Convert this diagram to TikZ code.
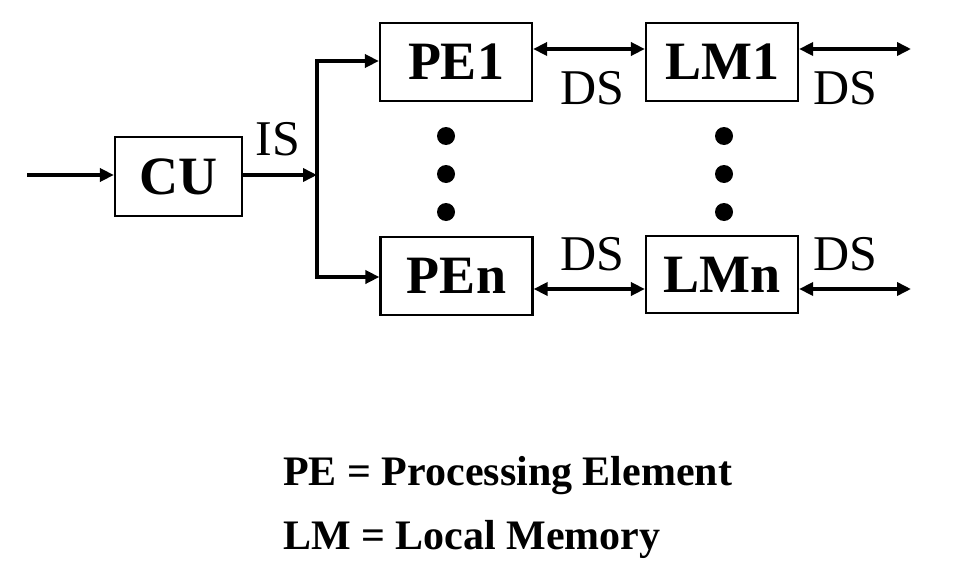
\documentclass[tikz,border=0pt]{standalone}
\usepackage{fontspec}
\setmainfont{Liberation Serif}
\usetikzlibrary{arrows.meta}
\begin{document}
\begin{tikzpicture}[x=1pt,y=-1pt,
  box/.style={draw,line width=2.2pt,minimum width=152pt,minimum height=78pt,inner sep=0pt,font=\fontsize{54}{54}\selectfont\bfseries},
  arr/.style={line width=3.5pt,-{Triangle[length=14pt,width=13pt]}},
  dbl/.style={line width=3.5pt,{Triangle[length=14pt,width=13pt]}-{Triangle[length=14pt,width=13pt]}},
  lbl/.style={font=\fontsize{50}{50}\selectfont,inner sep=0pt},
  leg/.style={font=\fontsize{42}{42}\selectfont\bfseries,inner sep=0pt,anchor=base west},
  dot/.style={circle,fill=black,minimum size=18pt,inner sep=0pt}]
\useasboundingbox (0,0) rectangle (965,567);
\node[box,minimum width=127pt,minimum height=79pt] (CU) at (178.5,176.5) {CU};
\node[box] (PE1) at (456,62) {PE1};
\node[box] (PEn) at (456.5,276) {PEn};
\node[box] (LM1) at (722,62) {LM1};
\node[box,minimum height=77pt] (LMn) at (722,274.5) {LMn};
\coordinate (in) at (27,175);
\coordinate (split) at (317,175);
\coordinate (out1) at (911,49);
\coordinate (outn) at (911,289);
\draw[arr] (in) -- (in -| CU.west);
\draw[arr] (in -| CU.east) -- (split);
\draw[arr] (split) |- ([yshift=1pt]PE1.west);
\draw[arr] (split) |- ([yshift=-1pt]PEn.west);
\draw[dbl] ([yshift=13pt]PE1.east) -- ([yshift=13pt]PE1.east -| LM1.west);
\draw[dbl] ([yshift=-13pt]PEn.east) -- ([yshift=-13pt]PEn.east -| LMn.west);
\draw[dbl] (out1 -| LM1.east) -- (out1);
\draw[dbl] (outn -| LMn.east) -- (outn);
\node[lbl] (IS) at (278,139) {IS};
\node[lbl] (DS1) at (592,88) {DS};
\node[lbl] (DS2) at (845,88) {DS};
\node[lbl] (DS3) at (592,254) {DS};
\node[lbl] (DS4) at (845,254) {DS};
\node[dot] (d1) at (446,136) {};
\node[dot] (d2) at (446,174) {};
\node[dot] (d3) at (446,212) {};
\node[dot] (d4) at (724,136) {};
\node[dot] (d5) at (724,174) {};
\node[dot] (d6) at (724,212) {};
\node[leg] (L1) at (283,485) {PE = Processing Element};
\node[leg] (L2) at (283,549) {LM = Local Memory};
\end{tikzpicture}
\end{document}
